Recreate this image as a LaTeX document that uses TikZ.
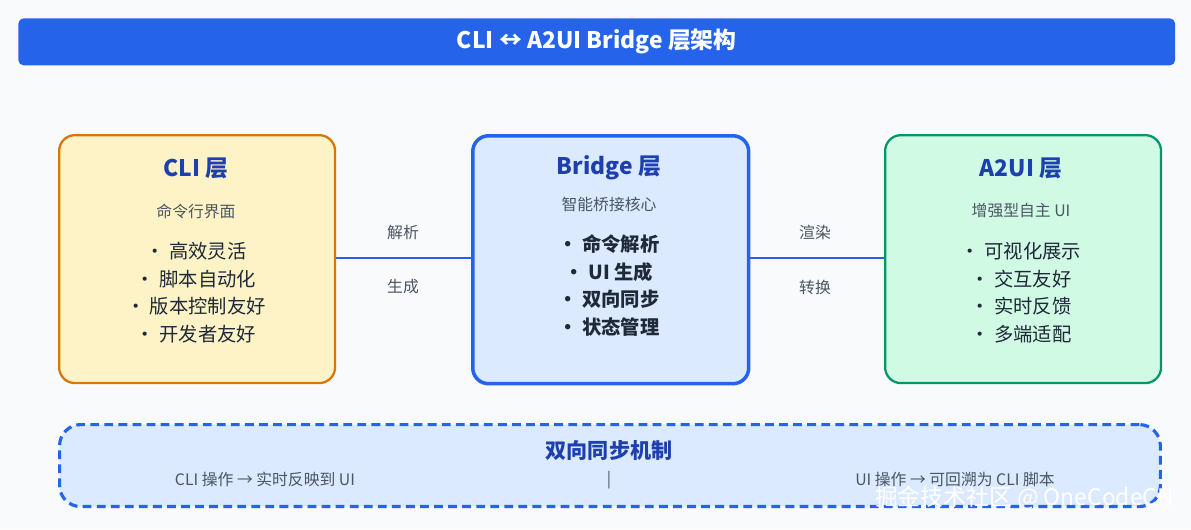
\documentclass[tikz,border=0pt]{standalone}
\usepackage{fontspec}
\setmainfont{Noto Sans CJK SC}
\usetikzlibrary{positioning}
\definecolor{bgc}{HTML}{F8FAFC}
\definecolor{barc}{HTML}{2563EB}
\definecolor{ttl}{HTML}{1E40AF}
\definecolor{subc}{HTML}{4B5563}
\definecolor{txt}{HTML}{1F2937}
\definecolor{clif}{HTML}{FEF3C7}
\definecolor{clid}{HTML}{D97706}
\definecolor{brf}{HTML}{DBEAFE}
\definecolor{auf}{HTML}{D1FAE5}
\definecolor{aud}{HTML}{059669}
\tikzset{
  layer/.style={draw, line width=1.3pt, rounded corners=9pt, minimum width=5.52cm, minimum height=4.96cm, anchor=north west},
  ttlt/.style={font=\bfseries\fontsize{13}{15}\selectfont, text=ttl},
  subt/.style={font=\fontsize{9}{11}\selectfont, text=subc},
  item/.style={font=\fontsize{11}{13}\selectfont, text=txt},
  lbl/.style={font=\fontsize{9}{11}\selectfont, text=subc},
  link/.style={draw=barc, line width=1.2pt}
}
\begin{document}
\begin{tikzpicture}[x=0.02cm, y=-0.02cm]
  \fill[bgc] (0,0) rectangle (1191,529);
  \useasboundingbox (0,0) rectangle (1191,529);
  % title bar
  \node[fill=barc, rounded corners=3pt, minimum width=23.14cm, minimum height=0.94cm, anchor=north west,
        text=white, font=\bfseries\fontsize{13}{15}\selectfont] (title) at (18,18) {CLI ↔ A2UI Bridge 层架构};
  % layers
  \node[layer, draw=clid, fill=clif] (cli) at (58,134) {};
  \node[layer, draw=barc, fill=brf, line width=2pt] (bridge) at (471,134) {};
  \node[layer, draw=aud, fill=auf] (a2ui) at (884,134) {};
  % cli
  \node[ttlt] (clit) at (196,168) {CLI 层};
  \node[subt] (clis) at (196,211) {命令行界面};
  \node[item] at (196,251) {• 高效灵活};
  \node[item] at (196,279) {• 脚本自动化};
  \node[item] at (196,306) {• 版本控制友好};
  \node[item] at (196,334) {• 开发者友好};
  % bridge
  \node[ttlt] (brt) at (609,168) {Bridge 层};
  \node[subt] (brs) at (609,204) {智能桥接核心};
  \node[item, font=\bfseries\fontsize{11}{13}\selectfont] at (609,244) {• 命令解析};
  \node[item, font=\bfseries\fontsize{11}{13}\selectfont] at (609,272) {• UI 生成};
  \node[item, font=\bfseries\fontsize{11}{13}\selectfont] at (609,299) {• 双向同步};
  \node[item, font=\bfseries\fontsize{11}{13}\selectfont] at (609,327) {• 状态管理};
  % a2ui
  \node[ttlt] (at) at (1021,168) {A2UI 层};
  \node[subt] (as) at (1021,211) {增强型自主 UI};
  \node[item] at (1021,251) {• 可视化展示};
  \node[item] at (1021,279) {• 交互友好};
  \node[item] at (1021,306) {• 实时反馈};
  \node[item] at (1021,334) {• 多端适配};
  % links
  \path[link] (cli.east |- 0,258) -- (bridge.west |- 0,258);
  \path[link] (bridge.east |- 0,258) -- (a2ui.west |- 0,258);
  \node[lbl] at (403,232) {解析};
  \node[lbl] at (403,287) {生成};
  \node[lbl] at (815,232) {渲染};
  \node[lbl] at (815,287) {转换};
  % sync
  \node[draw=barc, dash pattern=on 5pt off 3pt, line width=1.8pt, fill=brf, rounded corners=12pt,
        minimum width=22.02cm, minimum height=1.64cm, anchor=north west] (sync) at (58,423) {};
  \node[ttlt, font=\bfseries\fontsize{12}{14}\selectfont] (synct) at (609,450) {双向同步机制};
  \node[lbl] (synl) at (265,479) {CLI 操作 → 实时反映到 UI};
  \node[lbl] (sep) at (609,480) {|};
  \node[lbl] (synr) at (955,479) {UI 操作 → 可回溯为 CLI 脚本};
  \node[text=white, font=\fontsize{13}{15}\selectfont, anchor=east] (wm) at (1180,498) {掘金技术社区 @ OneCodeCN};
\end{tikzpicture}
\end{document}
